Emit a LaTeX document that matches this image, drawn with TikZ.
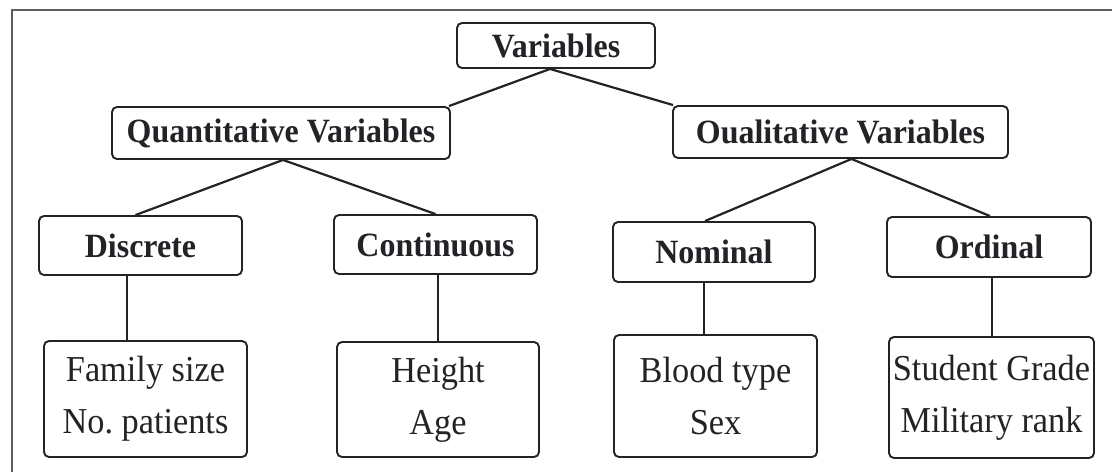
\documentclass[tikz,border=0pt]{standalone}
\usepackage{fontspec}
\setmainfont{Liberation Serif}[FakeStretch=0.94]
\usetikzlibrary{calc}
\definecolor{ink}{HTML}{232327}
\definecolor{framec}{HTML}{5E5E62}
\frenchspacing
\begin{document}
\begin{tikzpicture}[x=1pt,y=-1pt,
  box/.style={draw=ink, line width=1.9pt, rounded corners=5pt, inner sep=0pt, text=ink, align=center},
  head/.style={box, font=\fontsize{34}{38}\selectfont\bfseries},
  leaf/.style={box, font=\fontsize{36.5}{52}\selectfont},
  link/.style={draw=ink, line width=2.2pt},
  vlink/.style={draw=ink, line width=2pt}]
\useasboundingbox (0,0) rectangle (1112,472);
\fill[white] (0,0) rectangle (1112,472);
% frame
\draw[framec, line width=1.5pt] (12,472) -- (12,10) -- (1112,10);
% headers
\node[head, minimum width=198pt, minimum height=45pt] (var) at (556,45.5) {Variables};
\node[head, minimum width=338pt, minimum height=52pt] (quant) at (281,133) {Quantitative Variables};
\node[head, minimum width=335pt, minimum height=52pt] (qual) at (840.5,132) {Oualitative Variables};
\node[head, minimum width=203pt, minimum height=59pt] (disc) at (140.5,245.5) {Discrete};
\node[head, minimum width=203pt, minimum height=59pt] (cont) at (435.5,244.5) {Continuous};
\node[head, minimum width=202pt, minimum height=60pt] (nom) at (714,252) {Nominal};
\node[head, minimum width=204pt, minimum height=60pt] (ord) at (989,247) {Ordinal};
% leaves
\node[leaf, minimum width=203pt, minimum height=116pt] (fam) at (145.5,399) {Family size\\No. patients};
\node[leaf, minimum width=202pt, minimum height=115pt] (hei) at (438,399.5) {Height\\Age};
\node[leaf, minimum width=203pt, minimum height=122pt] (blo) at (715.5,396) {Blood type\\Sex};
\node[leaf, minimum width=205pt, minimum height=121pt] (stu) at (991.5,397.5) {Student Grade\\Military rank};
% connectors
\draw[link] ([xshift=-6pt]var.south) -- ([xshift=-2pt]quant.north east);
\draw[link] ([xshift=-6pt]var.south) -- ([xshift=1pt]qual.north west);
\draw[link] ([xshift=2pt]quant.south) -- ([xshift=-5pt]disc.north);
\draw[link] ([xshift=2pt]quant.south) -- (cont.north);
\draw[link] ([xshift=11pt]qual.south) -- ([xshift=-9pt]nom.north);
\draw[link] ([xshift=11pt]qual.south) -- ([xshift=1pt]ord.north);
\draw[vlink] ([xshift=-14pt]disc.south) -- ([xshift=-14pt]disc.south |- fam.north);
\draw[vlink] ([xshift=2pt]cont.south) -- ([xshift=2pt]cont.south |- hei.north);
\draw[vlink] ([xshift=-10pt]nom.south) -- ([xshift=-10pt]nom.south |- blo.north);
\draw[vlink] ([xshift=3pt]ord.south) -- ([xshift=3pt]ord.south |- stu.north);
\end{tikzpicture}
\end{document}
